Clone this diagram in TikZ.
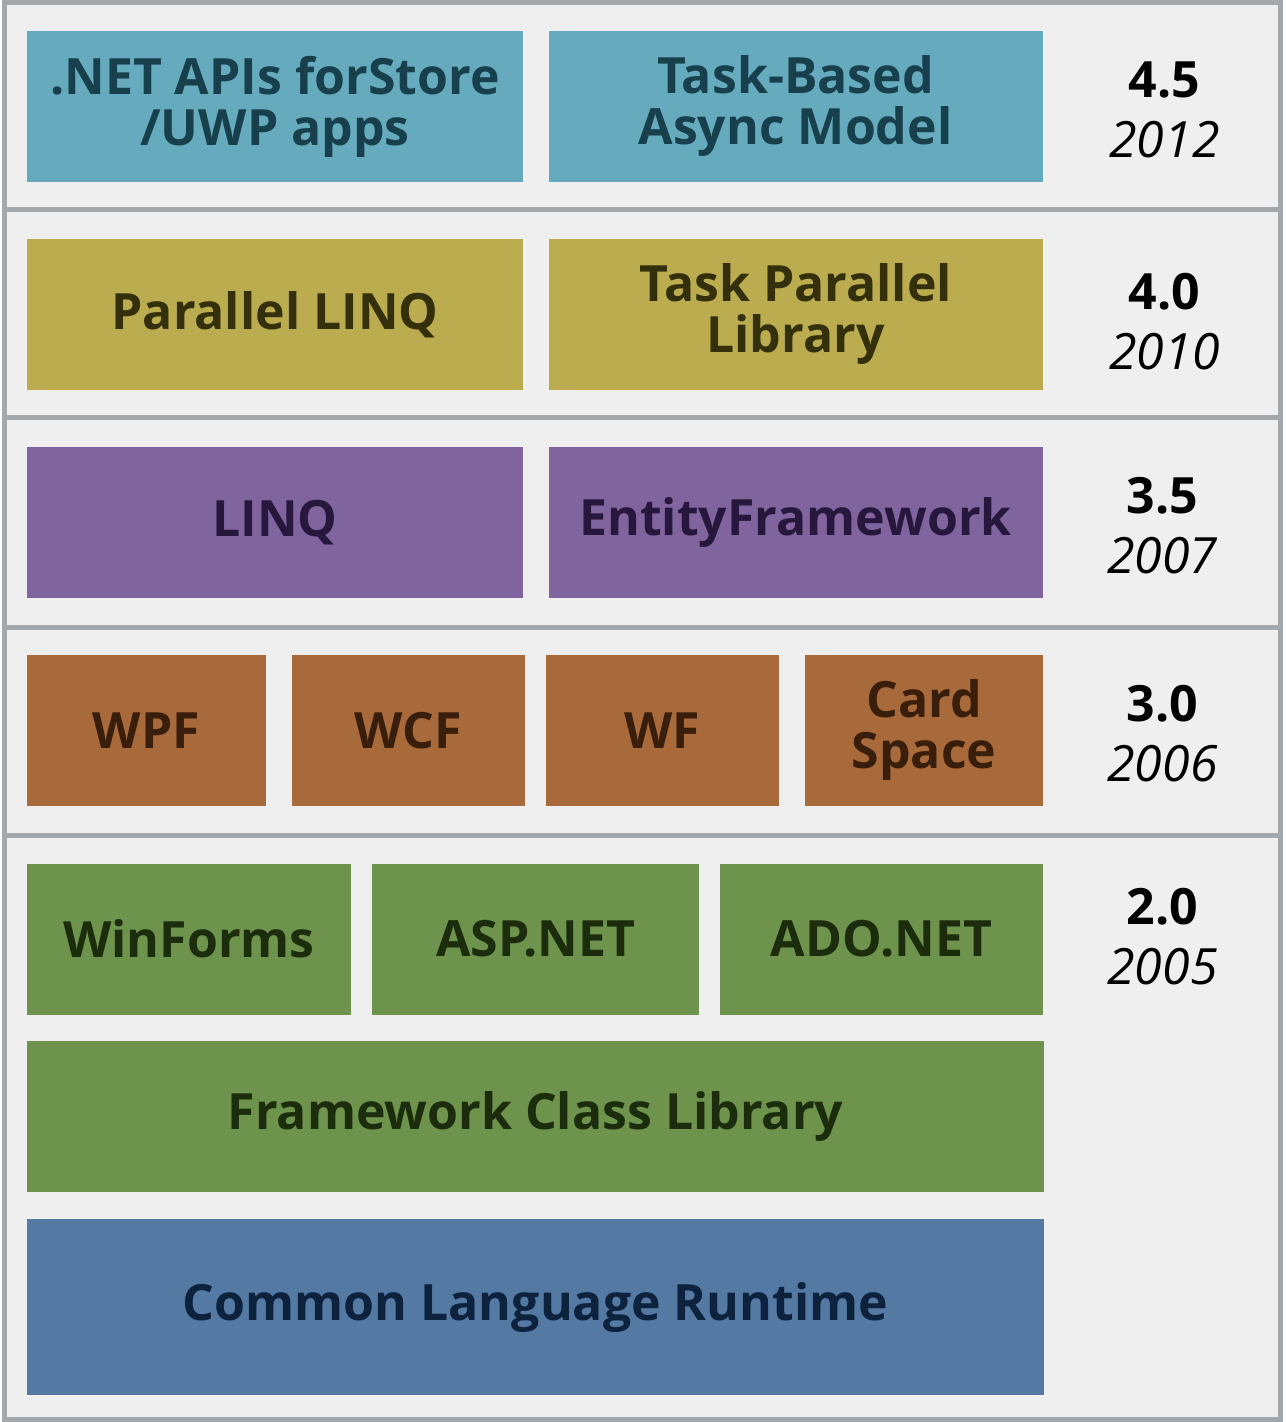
\documentclass[tikz,border=0pt]{standalone}
\usepackage{fontspec}
\setmainfont{Open Sans}
\usetikzlibrary{positioning}
\definecolor{bgcol}{HTML}{EFEFEF}
\definecolor{rulecol}{HTML}{A3A8AD}
\definecolor{tealfill}{HTML}{65ABBD}\definecolor{tealtext}{HTML}{17404C}
\definecolor{olivefill}{HTML}{BBAD4F}\definecolor{olivetext}{HTML}{35300C}
\definecolor{purplefill}{HTML}{80649E}\definecolor{purpletext}{HTML}{27173D}
\definecolor{brownfill}{HTML}{A86A3A}\definecolor{browntext}{HTML}{3A1E0C}
\definecolor{greenfill}{HTML}{6D934C}\definecolor{greentext}{HTML}{1B2D0C}
\definecolor{bluefill}{HTML}{5479A3}\definecolor{bluetext}{HTML}{0C223D}
\begin{document}
\begin{tikzpicture}[x=0.5pt,y=-0.5pt,
        box/.style={inner sep=0pt, minimum height=75.5pt, align=center,
          font=\fontsize{25}{25.5}\selectfont\bfseries},
        teal/.style={box, fill=tealfill, text=tealtext},
        olive/.style={box, fill=olivefill, text=olivetext},
        purple/.style={box, fill=purplefill, text=purpletext},
        brown/.style={box, fill=brownfill, text=browntext},
        green/.style={box, fill=greenfill, text=greentext},
        blue/.style={box, fill=bluefill, text=bluetext},
        version/.style={align=center, font=\fontsize{25}{30}\selectfont}]
        % Background and bands
        \fill[bgcol] (0,0) rectangle (1280,1422);
        \draw[rulecol, line width=2.5pt] (2.5,2.5) rectangle (1277.5,1419.5);
        \foreach \y in {210,418,627,835}
            \draw[rulecol, line width=2.5pt] (0,\y) -- (1280,\y);

        % Row 4.5
        \node[teal, minimum width=247.5pt] (store) at (272.5,106.5) {.NET APIs forStore\\/UWP apps};
        \node[teal, minimum width=247pt] (tap) at (793,106.5) {Task-Based\\Async Model};
        \node[version] (v45) at (1162,110) {\textbf{4.5}\\\textit{2012}};

        % Row 4.0
        \node[olive, minimum width=247.5pt] (plinq) at (272.5,314.5) {Parallel LINQ};
        \node[olive, minimum width=247pt] (tpl) at (793,314.5) {Task Parallel\\Library};
        \node[version] (v40) at (1162,322) {\textbf{4.0}\\\textit{2010}};

        % Row 3.5
        \node[purple, minimum width=247.5pt] (linq) at (272.5,522.5) {LINQ};
        \node[purple, minimum width=247pt] (ef) at (793,522.5) {EntityFramework};
        \node[version] (v35) at (1160,526) {\textbf{3.5}\\\textit{2007}};

        % Row 3.0
        \node[brown, minimum width=119pt] (wpf) at (144,730.5) {WPF};
        \node[brown, minimum width=116.5pt] (wcf) at (406,730.5) {WCF};
        \node[brown, minimum width=116.5pt] (wf) at (660,730.5) {WF};
        \node[brown, minimum width=119pt] (card) at (921.5,730.5) {Card\\Space};
        \node[version] (v30) at (1160,734) {\textbf{3.0}\\\textit{2006}};

        % Row 2.0
        \node[green, minimum width=161.5pt] (winforms) at (186.5,939) {WinForms};
        \node[green, minimum width=163.5pt] (asp) at (533,939) {ASP.NET};
        \node[green, minimum width=161.5pt] (ado) at (879,939) {ADO.NET};
        \node[version] (v20) at (1160,937) {\textbf{2.0}\\\textit{2005}};
        \node[green, minimum width=508pt] (fcl) at (533,1116.5) {Framework Class Library};
        \node[blue, minimum width=508pt, minimum height=88pt] (clr) at (533,1307) {Common Language Runtime};
\end{tikzpicture}
\end{document}
